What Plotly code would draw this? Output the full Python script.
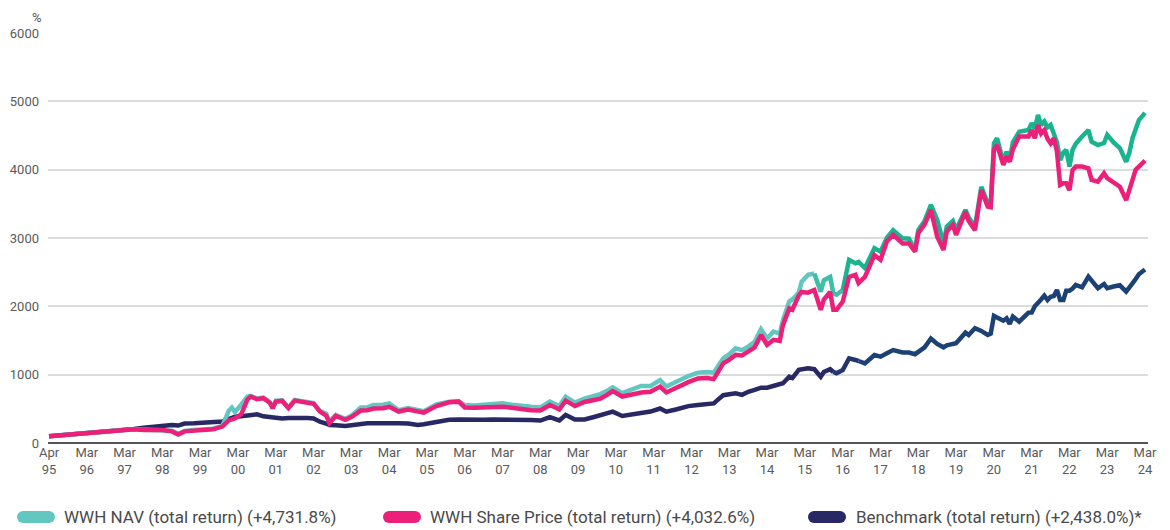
import plotly.graph_objects as go

# ---------------------------------------------------------------------------
# Data (index, start = 100)
# ---------------------------------------------------------------------------

dates = [
    "1995-04-01", "1995-07-01", "1995-10-01", "1996-01-01", "1996-04-01", "1996-07-01",
    "1996-10-01", "1997-01-01", "1997-04-01", "1997-07-01", "1997-10-01", "1998-01-01",
    "1998-04-01", "1998-07-01", "1998-09-01", "1998-11-01", "1999-02-01", "1999-05-01",
    "1999-08-01", "1999-11-01", "2000-01-01", "2000-02-01", "2000-03-01", "2000-05-01",
    "2000-07-01", "2000-08-01", "2000-10-01", "2000-12-01", "2001-02-01", "2001-03-01",
    "2001-04-01", "2001-06-01", "2001-08-01", "2001-10-01", "2001-12-01", "2002-02-01",
    "2002-04-01", "2002-06-01", "2002-08-01", "2002-09-01", "2002-11-01", "2003-02-01",
    "2003-04-01", "2003-07-01", "2003-09-01", "2003-11-01", "2004-02-01", "2004-04-01",
    "2004-07-01", "2004-10-01", "2005-01-01", "2005-03-01", "2005-07-01", "2005-09-01",
    "2005-11-01", "2006-02-01", "2006-04-01", "2006-07-01", "2006-10-01", "2007-01-01",
    "2007-04-01", "2007-07-01", "2007-10-01", "2008-01-01", "2008-04-01", "2008-07-01",
    "2008-10-01", "2008-12-01", "2009-03-01", "2009-06-01", "2009-09-01", "2009-11-01",
    "2010-01-01", "2010-03-01", "2010-06-01", "2010-09-01", "2010-12-01", "2011-03-01",
    "2011-06-01", "2011-08-01", "2011-11-01", "2012-01-01", "2012-03-01", "2012-06-01",
    "2012-09-01", "2012-11-01", "2013-02-01", "2013-04-01", "2013-06-01", "2013-08-01",
    "2013-10-01", "2013-12-01", "2014-02-01", "2014-04-01", "2014-06-01", "2014-08-01",
    "2014-09-01", "2014-11-01", "2014-12-01", "2015-02-01", "2015-03-01", "2015-05-01",
    "2015-07-01", "2015-09-01", "2015-10-01", "2015-12-01", "2016-01-01", "2016-02-01",
    "2016-04-01", "2016-06-01", "2016-08-01", "2016-09-01", "2016-11-01", "2017-02-01",
    "2017-04-01", "2017-06-01", "2017-08-01", "2017-11-01", "2018-01-01", "2018-03-01",
    "2018-04-01", "2018-06-01", "2018-08-01", "2018-10-01", "2018-12-01", "2019-01-01",
    "2019-03-01", "2019-04-01", "2019-07-01", "2019-08-01", "2019-10-01", "2019-12-01",
    "2020-02-01", "2020-03-01", "2020-04-01", "2020-05-01", "2020-07-01", "2020-08-01",
    "2020-09-01", "2020-10-01", "2020-12-01", "2021-03-01", "2021-04-01", "2021-05-01",
    "2021-06-01", "2021-07-01", "2021-08-01", "2021-09-01", "2021-10-01", "2021-11-01",
    "2021-12-01", "2022-01-01", "2022-02-01", "2022-03-01", "2022-04-01", "2022-05-01",
    "2022-06-01", "2022-08-01", "2022-10-01", "2022-11-01", "2023-01-01", "2023-03-01",
    "2023-04-01", "2023-06-01", "2023-08-01", "2023-10-01", "2023-11-01", "2023-12-01",
    "2024-01-01", "2024-02-01", "2024-03-31",
]

nav = [
    100, 112, 125, 145, 155, 160, 168, 180, 190, 200, 195, 205,
    200, 180, 135, 175, 190, 200, 210, 250, 470, 520, 455, 560,
    680, 690, 650, 665, 600, 520, 620, 625, 520, 630, 610, 590,
    585, 470, 430, 310, 410, 355, 400, 520, 520, 555, 560, 580,
    480, 510, 490, 465, 565, 580, 605, 610, 555, 550, 560, 575,
    580, 560, 540, 530, 520, 605, 540, 675, 590, 650, 690, 715,
    760, 815, 730, 790, 835, 835, 920, 825, 900, 945, 980, 1030,
    1040, 1030, 1240, 1300, 1385, 1360, 1410, 1480, 1665, 1530, 1630, 1600,
    1800, 2070, 2100, 2200, 2360, 2460, 2480, 2215, 2380, 2430, 2190, 2170,
    2240, 2680, 2630, 2650, 2560, 2850, 2800, 3000, 3115, 2995, 2990, 2825,
    3115, 3250, 3485, 3265, 2920, 3165, 3250, 3120, 3410, 3300, 3165, 3750,
    3510, 3500, 4385, 4460, 4115, 4265, 4140, 4400, 4555, 4580, 4680, 4600,
    4800, 4650, 4705, 4620, 4655, 4535, 4400, 4140, 4250, 4290, 4045, 4290,
    4380, 4485, 4580, 4410, 4360, 4390, 4510, 4400, 4315, 4115, 4250, 4460,
    4600, 4725, 4831.8,
]

share_price = [
    100, 112, 123, 142, 150, 155, 165, 178, 188, 200, 192, 195,
    190, 170, 125, 170, 180, 190, 200, 240, 330, 345, 360, 420,
    640, 680, 640, 655, 590, 510, 605, 615, 510, 620, 600, 580,
    575, 460, 400, 290, 395, 340, 380, 475, 480, 505, 510, 530,
    460, 490, 460, 445, 540, 560, 595, 605, 520, 515, 525, 530,
    530, 515, 490, 480, 475, 555, 490, 620, 540, 600, 630, 650,
    700, 760, 680, 710, 740, 750, 825, 740, 810, 850, 890, 945,
    950, 935, 1165, 1220, 1290, 1280, 1335, 1400, 1580, 1435, 1510, 1495,
    1725, 1970, 1950, 2160, 2210, 2200, 2240, 1950, 2100, 2210, 1950, 1950,
    2070, 2430, 2460, 2340, 2430, 2750, 2680, 2950, 3045, 2920, 2920, 2800,
    3070, 3200, 3410, 3020, 2825, 3095, 3190, 3045, 3385, 3250, 3115, 3700,
    3460, 3450, 4290, 4360, 4070, 4190, 4115, 4300, 4485, 4485, 4580, 4460,
    4655, 4530, 4580, 4450, 4385, 4460, 4265, 3775, 3800, 3800, 3700, 3995,
    4045, 4045, 4020, 3850, 3825, 3947, 3875, 3820, 3750, 3555, 3700, 3875,
    4000, 4045, 4132.6,
]

benchmark = [
    100, 110, 122, 140, 148, 152, 165, 178, 190, 205, 222, 240,
    255, 265, 255, 285, 290, 295, 300, 315, 350, 370, 385, 390,
    400, 405, 420, 390, 380, 365, 370, 360, 365, 370, 372, 365,
    360, 312, 285, 263, 260, 250, 260, 285, 290, 290, 295, 290,
    288, 285, 265, 275, 310, 325, 340, 345, 340, 335, 340, 345,
    345, 340, 330, 335, 328, 380, 330, 410, 345, 345, 380, 410,
    440, 458, 395, 420, 435, 460, 505, 458, 490, 522, 540, 556,
    570, 580, 700, 715, 727, 705, 750, 776, 810, 810, 840, 860,
    875, 970, 950, 1070, 1080, 1093, 1080, 970, 1040, 1080, 1040, 1020,
    1068, 1240, 1215, 1200, 1166, 1288, 1263, 1312, 1360, 1325, 1325, 1300,
    1330, 1400, 1530, 1450, 1400, 1430, 1450, 1459, 1615, 1581, 1679, 1640,
    1581, 1600, 1859, 1840, 1790, 1825, 1742, 1849, 1776, 1908, 1910, 2000,
    2044, 2100, 2156, 2093, 2141, 2150, 2239, 2093, 2093, 2229, 2229, 2260,
    2312, 2278, 2434, 2380, 2264, 2327, 2264, 2290, 2308, 2215, 2290, 2337,
    2400, 2470, 2538.0,
]

tick_dates = ["1995-04-01"] + [f"{y}-03-31" for y in range(1996, 2025)]
tick_text = ["Apr<br>95"] + [f"Mar<br>{y % 100:02d}" for y in range(1996, 2025)]

legend_labels = [
    "WWH NAV (total return) (+4,731.8%)",
    "WWH Share Price (total return) (+4,032.6%)",
    "Benchmark (total return) (+2,438.0%)*",
]

TEAL, TEAL_MID, GREEN = "#63c7c1", "#3dbea8", "#19b48f"
PINK = "#ec1f79"
NAVY, NAVY_MID, NAVY_LATE = "#272864", "#22356d", "#1c4275"
FONT = "Roboto"

# The page body has an 8px margin, so the figure is drawn 8px smaller than the
# window and all positions below are given in window pixels.
PAGE_W, PAGE_H, OFFSET = 1170, 530, 8
PLOT_X0, PLOT_X1, PLOT_Y0, PLOT_Y1 = 48, 1148, 33, 443
W, H = PAGE_W - OFFSET, PAGE_H - OFFSET
PW, PH = PLOT_X1 - PLOT_X0, PLOT_Y1 - PLOT_Y0


def segment(values, start, end):
    idx = [i for i, d in enumerate(dates) if start <= d <= end]
    return [dates[i] for i in idx], [values[i] for i in idx]


def line(x, y, color, name):
    return go.Scatter(x=x, y=y, mode="lines", name=name, showlegend=False,
                      line=dict(color=color, width=4.5, shape="linear"),
                      hovertemplate=name + "<br>%{x|%b %y}: %{y:.0f}<extra></extra>")


fig = go.Figure()

# benchmark first (bottom), then NAV, then share price on top
for (s, e), c in [(("1995", "2016-01-01"), NAVY), (("2016-01-01", "2016-09-01"), NAVY_MID),
                  (("2016-09-01", "2025"), NAVY_LATE)]:
    x, y = segment(benchmark, s, e)
    fig.add_trace(line(x, y, c, "Benchmark"))

for (s, e), c in [(("1995", "2015-07-01"), TEAL), (("2015-07-01", "2016-04-01"), TEAL_MID),
                  (("2016-04-01", "2025"), GREEN)]:
    x, y = segment(nav, s, e)
    fig.add_trace(line(x, y, c, "WWH NAV"))

fig.add_trace(line(dates, share_price, PINK, "WWH Share Price"))


# ---------------------------------------------------------------------------
# Legend drawn by hand (pill symbols + text), window pixel -> paper coords
# ---------------------------------------------------------------------------

def px_x(p):
    return (p - PLOT_X0) / PW


def px_y(p):
    return (PLOT_Y1 - p) / PH


legend_items = [(17, 62, TEAL, legend_labels[0]),
                (383, 428, PINK, legend_labels[1]),
                (808, 854, NAVY, legend_labels[2])]
shapes = []
annotations = []
cy, r, plen = 517, 6, 38
for sx, tx, color, text in legend_items:
    shapes.append(dict(type="rect", xref="paper", yref="paper",
                       x0=px_x(sx + r), x1=px_x(sx + plen - r),
                       y0=px_y(cy + r), y1=px_y(cy - r),
                       fillcolor=color, line=dict(width=0)))
    for cx in (sx + r, sx + plen - r):
        shapes.append(dict(type="circle", xref="paper", yref="paper",
                           x0=px_x(cx - r), x1=px_x(cx + r),
                           y0=px_y(cy + r), y1=px_y(cy - r),
                           fillcolor=color, line=dict(width=0)))
    annotations.append(dict(xref="paper", yref="paper", x=px_x(tx), y=px_y(cy),
                            xanchor="left", yanchor="middle", showarrow=False,
                            text=text, font=dict(family=FONT, size=17, color="#4a4a4a")))

annotations.append(dict(xref="paper", yref="paper", x=px_x(37), y=px_y(8.5),
                        xanchor="center", yanchor="top", showarrow=False,
                        text="%", font=dict(family=FONT, size=13, color="#555555")))

fig.update_layout(
    width=W,
    height=H,
    margin=dict(l=PLOT_X0 - OFFSET, r=PAGE_W - PLOT_X1,
                t=PLOT_Y0 - OFFSET, b=PAGE_H - PLOT_Y1, pad=0),
    paper_bgcolor="white",
    plot_bgcolor="white",
    font=dict(family=FONT, color="#595959", size=13),
    showlegend=False,
    xaxis=dict(
        type="date",
        range=["1995-03-22", "2024-04-29"],
        tickmode="array",
        tickvals=tick_dates,
        ticktext=tick_text,
        tickfont=dict(size=13, color="#5a5a5a"),
        showgrid=False,
        showline=False,
        zeroline=False,
        ticks="",
        automargin=False,
    ),
    yaxis=dict(
        range=[0, 6000],
        tickvals=[0, 1000, 2000, 3000, 4000, 5000, 6000],
        tickfont=dict(size=13, color="#5a5a5a"),
        showgrid=True,
        gridcolor="#dcdcdc",
        gridwidth=1.5,
        zeroline=True,
        zerolinecolor="#555555",
        zerolinewidth=1.5,
        showline=False,
        ticks="",
        ticklabelstandoff=8,
        automargin=False,
    ),
    shapes=shapes,
    annotations=annotations,
)

fig.write_html("out.html")
